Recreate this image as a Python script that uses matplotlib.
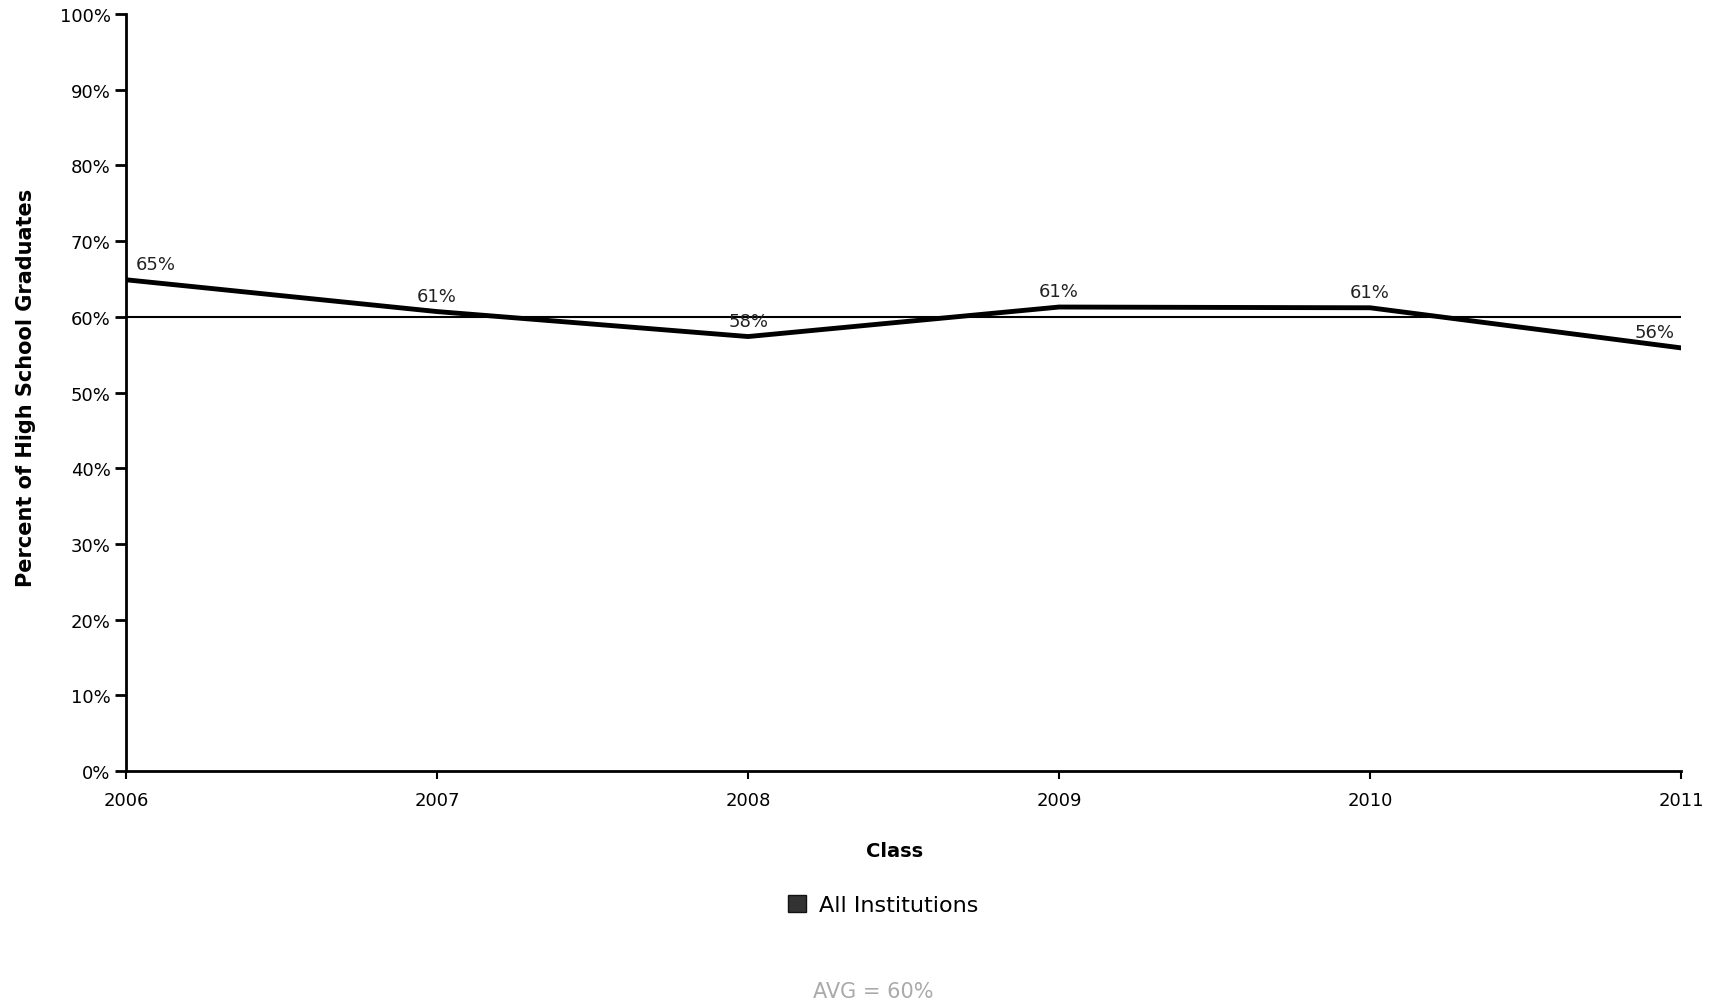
import matplotlib
matplotlib.use("Agg")
import matplotlib.pyplot as plt
from matplotlib.patches import Patch

years = [2006, 2007, 2008, 2009, 2010, 2011]
values = [64.9, 60.7, 57.4, 61.3, 61.2, 55.9]
labels = ["65%", "61%", "58%", "61%", "61%", "56%"]
avg = 60
yticks = list(range(0, 101, 10))
series_name = "All Institutions"

plt.rcParams['font.family'] = ['DejaVu Sans']

fig = plt.figure(figsize=(17.19, 10.04), dpi=100)
ax = fig.add_axes([0.0733, 0.231, 0.9047, 0.754])

ax.axhline(avg, color='black', lw=1.5, zorder=2)
ax.plot(years, values, color='black', lw=3.5, solid_joinstyle='round', zorder=3)

for i, (x, y, t) in enumerate(zip(years, values, labels)):
    if i == 0:
        ha, dx = 'left', 7
    elif i == len(years) - 1:
        ha, dx = 'right', -5
    else:
        ha, dx = 'center', 0
    ax.annotate(t, (x, y), xytext=(dx, 5), textcoords='offset points',
                ha=ha, va='bottom', fontsize=13, color='#222222')

ax.set_xlim(years[0], years[-1])
ax.set_ylim(0, 100)
ax.set_xticks(years)
ax.set_xticklabels([str(y) for y in years], fontsize=13)
ax.set_yticks(yticks)
ax.set_yticklabels([f"{v}%" for v in yticks], fontsize=13)
ax.tick_params(axis='y', length=8, width=2, pad=3)
ax.tick_params(axis='x', length=6, width=1.5, pad=8)

for s in ['top', 'right']:
    ax.spines[s].set_visible(False)
for s in ['left', 'bottom']:
    ax.spines[s].set_linewidth(2)

ax.set_ylabel("Percent of High School Graduates", fontsize=15, fontweight='bold')
ax.yaxis.set_label_coords(-0.058, 0.507)
ax.set_xlabel("Class", fontsize=14, fontweight='bold')
ax.xaxis.set_label_coords(0.494, -0.093)

handle = Patch(facecolor='#333333', edgecolor='#111111')
fig.legend([handle], [series_name], loc='center', bbox_to_anchor=(0.514, 0.0975),
           frameon=False, fontsize=16, handlelength=0.8, handleheight=0.8,
           handletextpad=0.6)

fig.text(0.508, 0.012, "AVG = 60%", ha='center', va='center', fontsize=15, color='#aaaaaa')

fig.savefig("out.png", dpi=100)
